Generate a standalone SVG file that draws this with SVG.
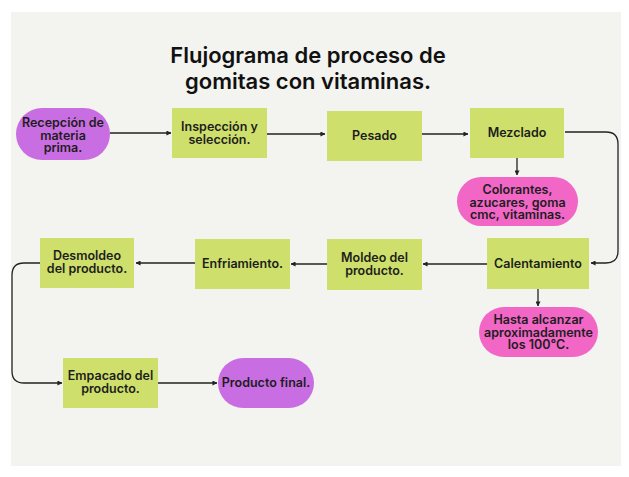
<svg xmlns="http://www.w3.org/2000/svg" width="629" height="477" viewBox="0 0 629 477">
<style>
.bg{fill:#f3f3ef}
.box{fill:#cee06b}
.pur{fill:#c96ee2}
.pink{fill:#f266c6}
.t{font-family:Inter,"Liberation Sans",sans-serif;font-weight:600;font-size:12.5px;fill:#1d1d1d;text-anchor:middle}
.title{font-family:Inter,"Liberation Sans",sans-serif;font-weight:600;font-size:22px;fill:#111;text-anchor:middle}
.c{fill:none;stroke:#222;stroke-width:1.3}
</style>
<defs>
<marker id="ah" viewBox="0 0 6 6" refX="5.5" refY="3" markerWidth="5" markerHeight="5" markerUnits="userSpaceOnUse" orient="auto">
<path d="M0,0 L6,3 L0,6 z" fill="#222"/>
</marker>
</defs>
<rect width="629" height="477" fill="#ffffff"/>
<rect class="bg" x="11" y="12" width="610" height="454"/>
<g id="title">
<text class="title" x="308" y="63">Flujograma de proceso de</text>
<text class="title" x="308" y="89">gomitas con vitaminas.</text>
</g>
<g id="connectors">
<path class="c" d="M110,133 H171" marker-end="url(#ah)"/>
<path class="c" d="M267,134 H325" marker-end="url(#ah)"/>
<path class="c" d="M422,134 H468" marker-end="url(#ah)"/>
<path class="c" d="M565,132 H606 Q618,132 618,144 V251 Q618,263 606,263 H591" marker-end="url(#ah)"/>
<path class="c" d="M517,158 V175" marker-end="url(#ah)"/>
<path class="c" d="M538,289 V306" marker-end="url(#ah)"/>
<path class="c" d="M487,264 H423" marker-end="url(#ah)"/>
<path class="c" d="M327,264 H291" marker-end="url(#ah)"/>
<path class="c" d="M195,263 H136" marker-end="url(#ah)"/>
<path class="c" d="M40,263 H24 Q12,263 12,275 V371 Q12,383 24,383 H62" marker-end="url(#ah)"/>
<path class="c" d="M158,383 H217" marker-end="url(#ah)"/>
</g>
<g id="n-recepcion">
<rect class="pur" x="16" y="108" width="94" height="52" rx="26"/>
<text class="t" x="63" y="127">Recepción de</text>
<text class="t" x="63" y="139.5">materia</text>
<text class="t" x="63" y="152">prima.</text>
</g>
<g id="n-inspeccion">
<rect class="box" x="172" y="108" width="95" height="50"/>
<text class="t" x="219.5" y="131">Inspección y</text>
<text class="t" x="219.5" y="143.5">selección.</text>
</g>
<g id="n-pesado">
<rect class="box" x="327" y="111" width="95" height="50"/>
<text class="t" x="374.5" y="140">Pesado</text>
</g>
<g id="n-mezclado">
<rect class="box" x="470" y="108" width="94" height="50"/>
<text class="t" x="517" y="137">Mezclado</text>
</g>
<g id="n-colorantes">
<rect class="pink" x="457" y="177" width="121" height="49" rx="24.5"/>
<text class="t" x="517.5" y="194">Colorantes,</text>
<text class="t" x="517.5" y="206.5">azucares, goma</text>
<text class="t" x="517.5" y="219">cmc, vitaminas.</text>
</g>
<g id="n-calentamiento">
<rect class="box" x="487" y="238" width="102" height="51"/>
<text class="t" x="538" y="268">Calentamiento</text>
</g>
<g id="n-hasta">
<rect class="pink" x="479" y="307" width="119" height="50" rx="25"/>
<text class="t" x="538.5" y="324">Hasta alcanzar</text>
<text class="t" x="538.5" y="336.5">aproximadamente</text>
<text class="t" x="538.5" y="349">los 100°C.</text>
</g>
<g id="n-moldeo">
<rect class="box" x="327" y="239" width="95" height="51"/>
<text class="t" x="374.5" y="262">Moldeo del</text>
<text class="t" x="374.5" y="275">producto.</text>
</g>
<g id="n-enfriamiento">
<rect class="box" x="195" y="239" width="95" height="50"/>
<text class="t" x="242.5" y="268">Enfriamiento.</text>
</g>
<g id="n-desmoldeo">
<rect class="box" x="40" y="238" width="94" height="50"/>
<text class="t" x="87" y="260">Desmoldeo</text>
<text class="t" x="87" y="273">del producto.</text>
</g>
<g id="n-empacado">
<rect class="box" x="63" y="358" width="95" height="50"/>
<text class="t" x="110.5" y="380">Empacado del</text>
<text class="t" x="110.5" y="393">producto.</text>
</g>
<g id="n-final">
<rect class="pur" x="218" y="358" width="96" height="50" rx="25"/>
<text class="t" x="266" y="387">Producto final.</text>
</g>
</svg>
